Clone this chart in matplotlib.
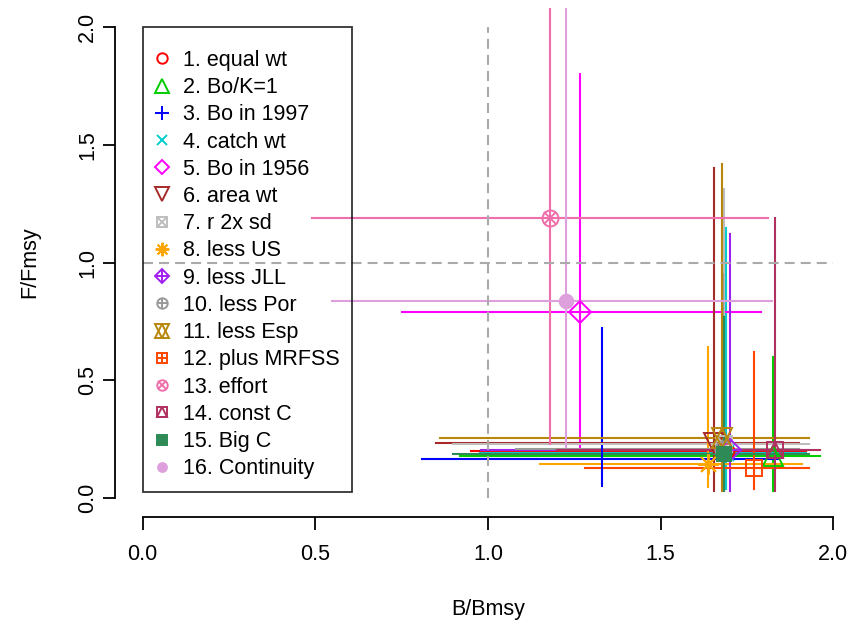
import matplotlib
matplotlib.use("Agg")
import matplotlib.pyplot as plt
from matplotlib.lines import Line2D

plt.rcParams['font.family'] = ['Liberation Sans', 'DejaVu Sans']

# runs: point estimate of B/Bmsy and F/Fmsy with their intervals
labels = ["1. equal wt", "2. Bo/K=1", "3. Bo in 1997", "4. catch wt",
          "5. Bo in 1956", "6. area wt", "7. r 2x sd", "8. less US",
          "9. less JLL", "10. less Por", "11. less Esp", "12. plus MRFSS",
          "13. effort", "14. const C", "15. Big C", "16. Continuity"]
B = [1.69, 1.826, 1.33, 1.69, 1.267, 1.655, 1.684, 1.638,
     1.70, 1.68, 1.678, 1.77, 1.18, 1.83, 1.684, 1.225]
F = [0.20, 0.18, 0.165, 0.19, 0.79, 0.235, 0.23, 0.145,
     0.205, 0.21, 0.255, 0.13, 1.19, 0.205, 0.187, 0.835]
B_lo = [0.95, 0.92, 0.81, 0.977, 0.75, 0.848, 0.90, 1.15,
        0.98, 1.08, 0.86, 1.28, 0.49, 1.20, 0.90, 0.548]
B_hi = [1.92, 1.96, 1.84, 1.92, 1.79, 1.90, 1.93, 1.91,
        1.93, 1.90, 1.93, 1.93, 1.81, 1.96, 1.93, 1.823]
F_lo = [0.04, 0.03, 0.05, 0.04, 0.21, 0.03, 0.03, 0.047,
        0.03, 0.05, 0.03, 0.04, 0.23, 0.03, 0.03, 0.217]
F_hi = [0.92, 0.60, 0.72, 1.145, 1.80, 1.40, 1.31, 0.64,
        1.12, 0.95, 1.42, 0.62, 2.60, 1.19, 0.77, 2.50]

colors = ["#FF0000", "#00CD00", "#0000FF", "#00CDCD", "#FF00FF", "#A52A2A",
          "#BEBEBE", "#FFA500", "#A020F0", "#999999", "#B8860B", "#FF4500",
          "#F06EAA", "#B03060", "#2E8B57", "#DDA0DD"]

# R-like pch symbols built from matplotlib markers: (marker, size factor, filled)
pch = [
    [('o', 1.0, False)],
    [('^', 1.3, False)],
    [('+', 1.35, False)],
    [('x', 1.0, False)],
    [('D', 1.0, False)],
    [('v', 1.3, False)],
    [('s', 1.0, False), ('x', 1.0, False)],
    [((8, 2, 0), 1.3, False)],
    [('D', 1.0, False), ('+', 1.4, False)],
    [('o', 1.0, False), ('+', 1.0, False)],
    [('^', 1.3, False), ('v', 1.3, False)],
    [('s', 1.0, False), ('+', 1.0, False)],
    [('o', 1.0, False), ('x', 0.72, False)],
    [('s', 1.0, False), ('^', 1.0, False)],
    [('s', 0.9, True)],
    [('o', 0.85, True)],
]

fs = 15.5
W, H = 852, 625
fig = plt.figure(figsize=(W / 100, H / 100), dpi=100)
ax = fig.add_axes([115 / W, 1 - 517 / H, (861 - 115) / W, (517 - 8) / H])
ax.set_xlim(-0.08, 2.08)
ax.set_ylim(-0.08, 2.08)


def marker_lines(i, size, x=None, y=None):
    out = []
    for m, k, filled in pch[i]:
        mfc = colors[i] if filled else 'none'
        ln = Line2D([] if x is None else [x], [] if y is None else [y],
                    linestyle='none', marker=m, markersize=size * k,
                    markeredgecolor=colors[i], markerfacecolor=mfc,
                    markeredgewidth=1.4)
        out.append(ln)
    return out


for i in range(len(labels)):
    ax.plot([B_lo[i], B_hi[i]], [F[i], F[i]], color=colors[i], lw=1.5, zorder=2)
    ax.plot([B[i], B[i]], [F_lo[i], F_hi[i]], color=colors[i], lw=1.5, zorder=2)
    for ln in marker_lines(i, 11.5, B[i], F[i]):
        ln.set_zorder(3)
        ax.add_line(ln)

ax.plot([1, 1], [0, 2], color='#AAAAAA', lw=1.5, ls=(0, (4.8, 2.9)), zorder=4)
ax.plot([0, 2], [1, 1], color='#AAAAAA', lw=1.5, ls=(0, (4.8, 2.9)), zorder=4)

handles = [tuple(marker_lines(i, 7.5)) for i in range(len(labels))]
leg = ax.legend(handles, labels, loc='upper left', bbox_to_anchor=(0, 2),
                bbox_transform=ax.transData, borderaxespad=0, fontsize=fs,
                frameon=True, fancybox=False, edgecolor='black',
                facecolor='none', handlelength=0.6, handletextpad=0.68,
                borderpad=0.59, labelspacing=0.29, title=' ',
                title_fontsize=2)
leg.get_frame().set_linewidth(1.3)

for s in ['top', 'right']:
    ax.spines[s].set_visible(False)
ax.spines['left'].set_bounds(0, 2)
ax.spines['bottom'].set_bounds(0, 2)
ax.spines['left'].set_linewidth(1.3)
ax.spines['bottom'].set_linewidth(1.3)

ticks = [0.0, 0.5, 1.0, 1.5, 2.0]
ax.set_xticks(ticks)
ax.set_yticks(ticks)
ax.set_xticklabels([f"{t:.1f}" for t in ticks])
ax.set_yticklabels([f"{t:.1f}" for t in ticks], rotation=90, va='center')
ax.tick_params(direction='out', length=9, width=1.3, labelsize=fs)
ax.tick_params(axis='x', pad=10.5)
ax.tick_params(axis='y', pad=3)

ax.set_xlabel("B/Bmsy", fontsize=fs)
ax.set_ylabel("F/Fmsy", fontsize=fs)
ax.xaxis.set_label_coords(0.5, -0.182)
ax.xaxis.label.set_va('center')
ax.yaxis.set_label_coords(-0.114, 0.501)
ax.yaxis.label.set_va('center')

fig.savefig("out.png", dpi=100)
